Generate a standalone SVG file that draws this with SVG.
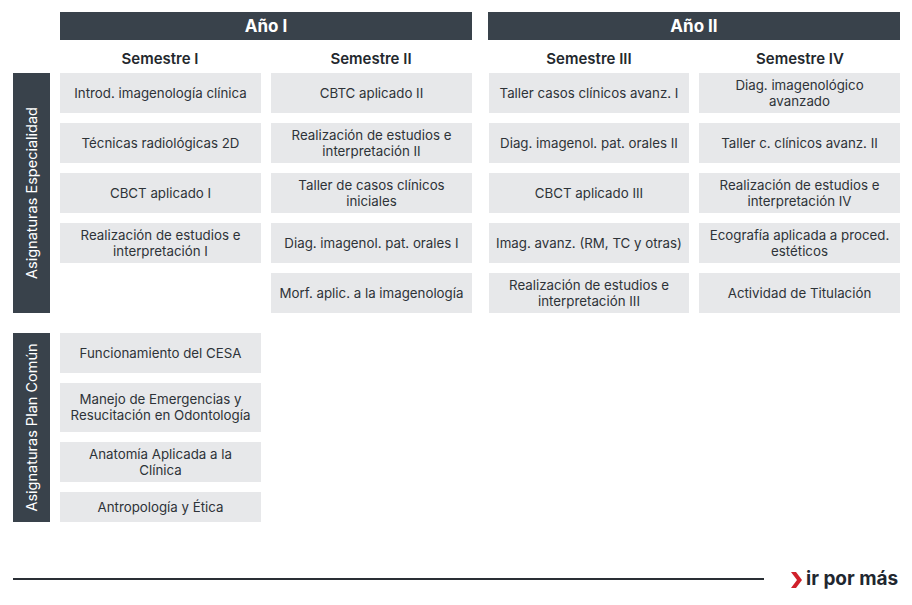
<svg xmlns="http://www.w3.org/2000/svg" width="912" height="605" viewBox="0 0 912 605">
<style>
.hdr{fill:#39424b}
.box{fill:#e7e8ea}
.t{font-family:Inter,"Liberation Sans",sans-serif;font-size:13.3px;fill:#2e3338;text-anchor:middle}
.h{font-family:Inter,"Liberation Sans",sans-serif;font-size:17px;font-weight:700;fill:#ffffff;text-anchor:middle}
.s{font-family:Inter,"Liberation Sans",sans-serif;font-size:15px;font-weight:600;fill:#23282d;text-anchor:middle}
.v{font-family:Inter,"Liberation Sans",sans-serif;font-size:14.5px;fill:#ffffff;text-anchor:middle}
</style>
<rect width="912" height="605" fill="#ffffff"/>
<g id="year1"><rect class="hdr" x="60" y="12" width="412" height="28"/><text class="h" x="266" y="32">Año I</text></g>
<g id="year2"><rect class="hdr" x="488" y="12" width="412" height="28"/><text class="h" x="694" y="32">Año II</text></g>
<g id="sem1"><text class="s" x="160" y="64">Semestre I</text></g>
<g id="sem2"><text class="s" x="371" y="64">Semestre II</text></g>
<g id="sem3"><text class="s" x="589" y="64">Semestre III</text></g>
<g id="sem4"><text class="s" x="800" y="64">Semestre IV</text></g>
<g id="espec"><rect class="hdr" x="13" y="73" width="37" height="240"/><text class="v" transform="translate(36.5 193) rotate(-90)">Asignaturas Especialidad</text></g>
<g id="comun"><rect class="hdr" x="13" y="333" width="37" height="189"/><text class="v" transform="translate(36.5 427.5) rotate(-90)">Asignaturas Plan Común</text></g>
<!-- column 1 -->
<g id="c1r1"><rect class="box" x="60" y="73" width="201" height="40"/><text class="t" x="160.5" y="97.5">Introd. imagenología clínica</text></g>
<g id="c1r2"><rect class="box" x="60" y="123" width="201" height="40"/><text class="t" x="160.5" y="147.5">Técnicas radiológicas 2D</text></g>
<g id="c1r3"><rect class="box" x="60" y="173" width="201" height="40"/><text class="t" x="160.5" y="197.5">CBCT aplicado I</text></g>
<g id="c1r4"><rect class="box" x="60" y="223" width="201" height="40"/><text class="t" x="160.5" y="239.5">Realización de estudios e</text><text class="t" x="160.5" y="255.5">interpretación I</text></g>
<!-- column 2 -->
<g id="c2r1"><rect class="box" x="271" y="73" width="201" height="40"/><text class="t" x="371.5" y="97.5">CBTC aplicado II</text></g>
<g id="c2r2"><rect class="box" x="271" y="123" width="201" height="40"/><text class="t" x="371.5" y="139.5">Realización de estudios e</text><text class="t" x="371.5" y="155.5">interpretación II</text></g>
<g id="c2r3"><rect class="box" x="271" y="173" width="201" height="40"/><text class="t" x="371.5" y="189.5">Taller de casos clínicos</text><text class="t" x="371.5" y="205.5">iniciales</text></g>
<g id="c2r4"><rect class="box" x="271" y="223" width="201" height="40"/><text class="t" x="371.5" y="247.5">Diag. imagenol. pat. orales I</text></g>
<g id="c2r5"><rect class="box" x="271" y="273" width="201" height="40"/><text class="t" x="371.5" y="297.5">Morf. aplic. a la imagenología</text></g>
<!-- column 3 -->
<g id="c3r1"><rect class="box" x="489" y="73" width="200" height="40"/><text class="t" x="589" y="97.5">Taller casos clínicos avanz. I</text></g>
<g id="c3r2"><rect class="box" x="489" y="123" width="200" height="40"/><text class="t" x="589" y="147.5">Diag. imagenol. pat. orales II</text></g>
<g id="c3r3"><rect class="box" x="489" y="173" width="200" height="40"/><text class="t" x="589" y="197.5">CBCT aplicado III</text></g>
<g id="c3r4"><rect class="box" x="489" y="223" width="200" height="40"/><text class="t" x="589" y="247.5">Imag. avanz. (RM, TC y otras)</text></g>
<g id="c3r5"><rect class="box" x="489" y="273" width="200" height="40"/><text class="t" x="589" y="289.5">Realización de estudios e</text><text class="t" x="589" y="305.5">interpretación III</text></g>
<!-- column 4 -->
<g id="c4r1"><rect class="box" x="699" y="73" width="201" height="40"/><text class="t" x="799.5" y="89.5">Diag. imagenológico</text><text class="t" x="799.5" y="105.5">avanzado</text></g>
<g id="c4r2"><rect class="box" x="699" y="123" width="201" height="40"/><text class="t" x="799.5" y="147.5">Taller c. clínicos avanz. II</text></g>
<g id="c4r3"><rect class="box" x="699" y="173" width="201" height="40"/><text class="t" x="799.5" y="189.5">Realización de estudios e</text><text class="t" x="799.5" y="205.5">interpretación IV</text></g>
<g id="c4r4"><rect class="box" x="699" y="223" width="201" height="40"/><text class="t" x="799.5" y="239.5">Ecografía aplicada a proced.</text><text class="t" x="799.5" y="255.5">estéticos</text></g>
<g id="c4r5"><rect class="box" x="699" y="273" width="201" height="40"/><text class="t" x="799.5" y="297.5">Actividad de Titulación</text></g>
<!-- common -->
<g id="pc1"><rect class="box" x="60" y="333" width="201" height="40"/><text class="t" x="160.5" y="357.5">Funcionamiento del CESA</text></g>
<g id="pc2"><rect class="box" x="60" y="383" width="201" height="49"/><text class="t" x="160.5" y="404">Manejo de Emergencias y</text><text class="t" x="160.5" y="420">Resucitación en Odontología</text></g>
<g id="pc3"><rect class="box" x="60" y="442" width="201" height="40"/><text class="t" x="160.5" y="458.5">Anatomía Aplicada a la</text><text class="t" x="160.5" y="474.5">Clínica</text></g>
<g id="pc4"><rect class="box" x="60" y="492" width="201" height="30"/><text class="t" x="160.5" y="511.5">Antropología y Ética</text></g>
<g id="footer">
<line x1="13" y1="579" x2="764" y2="579" stroke="#2a2f35" stroke-width="2"/>
<polygon points="791,572 796,572 802,580 796,588 791,588 797,580" fill="#d0202a"/>
<text x="806" y="585" font-family="Inter,'Liberation Sans',sans-serif" font-size="19" font-weight="700" fill="#1f2730">ir por más</text>
</g>
</svg>
